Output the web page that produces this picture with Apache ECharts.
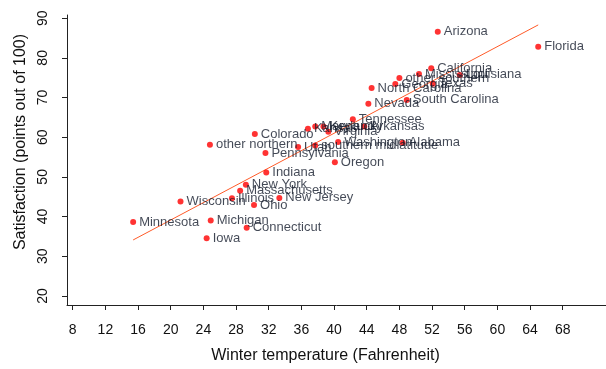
<!DOCTYPE html>
<html>
<head>
<meta charset="utf-8">
<script src="https://cdn.jsdelivr.net/npm/echarts@6/dist/echarts.min.js"></script>
<style>
  html, body { margin: 0; padding: 0; background: #fff; }
  #main { width: 606px; height: 369px; }
</style>
</head>
<body>
<div id="main"></div>
<script>
// state / group names, winter temperature (F), satisfaction (0-100)
var states = ['Arizona', 'Florida', 'California', 'Mississippi', 'other southern', 'Georgia',
  'North Carolina', 'Texas', 'Louisiana', 'South Carolina', 'Nevada', 'Tennessee', 'Arkansas',
  'Kansas', 'Maryland', 'Kentucky', 'Virginia', 'Washington', 'southern midlatitude', 'Utah',
  'Alabama', 'Colorado', 'other northern', 'Pennsylvania', 'Oregon', 'Indiana', 'New York',
  'Massachusetts', 'Illinois', 'Wisconsin', 'Ohio', 'New Jersey', 'Minnesota', 'Michigan',
  'Connecticut', 'Iowa'];
var winterTemp = [52.7, 65.0, 51.9, 50.4, 48.0, 47.5,
  44.6, 52.1, 55.4, 48.9, 44.2, 42.3, 43.7,
  36.8, 37.7, 38.7, 39.3, 40.5, 37.7, 35.6,
  48.4, 30.3, 24.8, 31.6, 40.1, 31.7, 29.2,
  28.5, 27.5, 21.2, 30.2, 33.3, 15.4, 24.9,
  29.3, 24.4];
var satisfaction = [86.6, 82.8, 77.4, 75.9, 74.9, 73.4,
  72.4, 73.5, 75.7, 69.4, 68.4, 64.5, 62.7,
  62.1, 62.7, 62.7, 61.4, 58.8, 57.9, 57.5,
  58.6, 60.8, 58.1, 56.0, 53.7, 51.1, 48.0,
  46.5, 44.6, 43.8, 42.9, 44.7, 38.6, 39.0,
  37.2, 34.5];
// fitted line end points
var fitLine = [[15.4, 34.1], [65.0, 88.3]];
var xTicks = [8, 12, 16, 20, 24, 28, 32, 36, 40, 44, 48, 52, 56, 60, 64, 68];
var yTicks = [20, 30, 40, 50, 60, 70, 80, 90];

var points = states.map(function (s, i) {
  return { name: s, value: [winterTemp[i], satisfaction[i]] };
});

var chart = echarts.init(document.getElementById('main'));
var option = {
  animation: false,
  grid: { left: 67, right: 0, top: 15, bottom: 64 },
  xAxis: {
    type: 'value',
    min: 7.3,
    max: 73.3,
    name: 'Winter temperature (Fahrenheit)',
    nameLocation: 'middle',
    nameGap: 43,
    nameTextStyle: { fontFamily: 'Liberation Sans', fontSize: 16, color: '#111', padding: [0, 22, 0, 0] },
    axisLine: { lineStyle: { color: '#222', width: 1 } },
    axisTick: { customValues: xTicks, length: 5, inside: false, lineStyle: { color: '#222' } },
    axisLabel: { customValues: xTicks, margin: 18, fontFamily: 'Liberation Sans', fontSize: 14, color: '#111' },
    splitLine: { show: false }
  },
  yAxis: {
    type: 'value',
    min: 17.7,
    max: 90.8,
    name: 'Satisfaction (points out of 100)',
    nameLocation: 'middle',
    nameGap: 36,
    nameTextStyle: { fontFamily: 'Liberation Sans', fontSize: 16, color: '#111', padding: [0, 0, 0, 36] },
    axisLine: { show: true, lineStyle: { color: '#222', width: 1 } },
    axisTick: { show: true, customValues: yTicks, length: 5, lineStyle: { color: '#222' } },
    axisLabel: { customValues: yTicks, rotate: 90, margin: 17, fontFamily: 'Liberation Sans', fontSize: 14, color: '#111' },
    splitLine: { show: false }
  },
  series: [
    {
      type: 'line',
      data: fitLine,
      symbol: 'none',
      lineStyle: { color: '#ff5a28', width: 1 },
      z: 1
    },
    {
      type: 'scatter',
      data: points,
      symbol: 'circle',
      symbolSize: 6,
      itemStyle: { color: '#ff0000' },
      label: {
        show: true,
        position: 'right',
        distance: 3,
        formatter: '{b}',
        fontFamily: 'Liberation Sans',
        fontSize: 13,
        color: '#141c2c'
      },
      labelLayout: { hideOverlap: false },
      z: 2
    }
  ]
};
chart.setOption(option);
</script>
</body>
</html>
